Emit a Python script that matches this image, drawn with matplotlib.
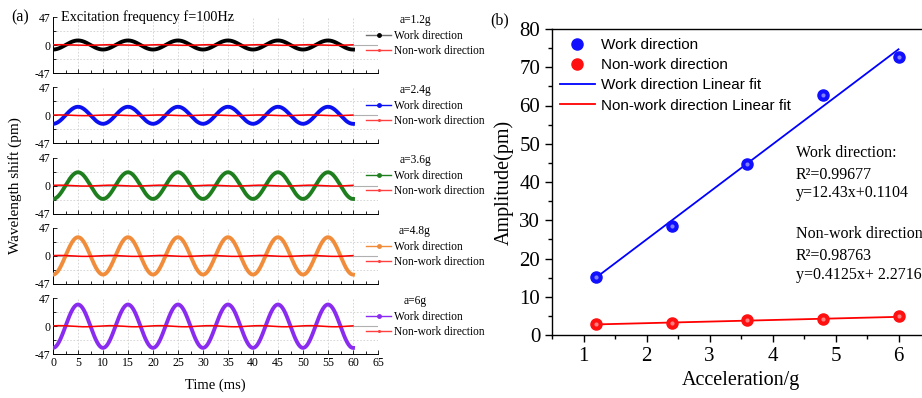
import numpy as np
import matplotlib
matplotlib.use("Agg")
import matplotlib.pyplot as plt
from matplotlib.ticker import MultipleLocator
from matplotlib.lines import Line2D

plt.rcParams["axes.unicode_minus"] = False

# data
accel = [1.2, 2.4, 3.6, 4.8, 6.0]
accel_labels = ["a=1.2g", "a=2.4g", "a=3.6g", "a=4.8g", "a=6g"]
work_amp = [15.2, 28.6, 44.7, 62.7, 72.7]       # peak-to-peak, pm
nonwork_amp = [2.8, 3.1, 3.8, 4.1, 4.9]
work_colors = ["black", "#0a10f0", "#1f7f1f", "#f08c3a", "#8a2cf0"]
legend_colors = ["#707070", "#0a10f0", "#1f7f1f", "#f08c3a", "#8a2cf0"]
excitation_hz = 100
fit_work = (12.43, 0.1104)
fit_nonwork = (0.4125, 2.2716)

serif = "Liberation Serif"
sans = "Liberation Sans"

fig = plt.figure(figsize=(9.22, 3.98), dpi=100)
W, H = 922, 398

# ---------- (a) time traces ----------
t = np.linspace(0, 60, 1201)
f_khz = excitation_hz / 1000.0
for i in range(5):
    top = 17 + 70.3 * i
    ax = fig.add_axes([53 / W, 1 - (top + 56) / H, 325 / W, 56 / H])
    work = -work_amp[i] / 2 * np.cos(2 * np.pi * f_khz * t)
    non = nonwork_amp[i] / 5 * np.sin(2 * np.pi * f_khz * t + 0.7)
    ax.axhline(0, color="#b0b0b0", lw=0.8, zorder=1)
    ax.plot(t, work, color=work_colors[i], lw=2.8, zorder=3)
    ax.plot(t, non, color="red", lw=1.1, zorder=4)
    ax.set_xlim(0, 65)
    ax.set_ylim(-47, 47)
    ax.set_yticks([-47, 0, 47])
    ax.yaxis.set_minor_locator(MultipleLocator(23.5))
    ax.xaxis.set_major_locator(MultipleLocator(5))
    ax.xaxis.set_minor_locator(MultipleLocator(2.5))
    ax.grid(True, which="major", axis="x", ls=(0, (2, 2)), color="#d0d0d0", lw=0.6)
    ax.grid(True, which="minor", axis="y", ls=(0, (2, 2)), color="#d0d0d0", lw=0.6)
    ax.tick_params(which="both", direction="in", labelsize=8.5, width=0.6, pad=2)
    ax.tick_params(which="major", length=3)
    ax.tick_params(which="minor", length=2)
    for s in ["top", "right"]:
        ax.spines[s].set_visible(False)
    for s in ["left", "bottom"]:
        ax.spines[s].set_linewidth(0.7)
    for lab in ax.get_xticklabels() + ax.get_yticklabels():
        lab.set_fontfamily(serif)
    if i < 4:
        ax.set_xticklabels([])
    ax.text(1.114, 0.95, accel_labels[i], transform=ax.transAxes, fontsize=8.3,
            family=serif, ha="center", va="center")
    handles = [Line2D([], [], color=legend_colors[i], lw=1.0, marker="o", ms=2.5,
                      markerfacecolor=work_colors[i], markeredgecolor=work_colors[i]),
               Line2D([], [], color="#ff4040", lw=1.0, marker="o", ms=1.2)]
    ax.legend(handles, ["Work direction", "Non-work direction"], loc="center left",
              bbox_to_anchor=(0.963, 0.53), frameon=False,
              prop={"family": serif, "size": 8.3}, borderpad=0, borderaxespad=0,
              handlelength=2.2, handletextpad=0.2, labelspacing=0.25)
    if i == 0:
        ax.text(0.025, 1.0, "Excitation frequency f=%dHz" % excitation_hz,
                transform=ax.transAxes, fontsize=10.3, family=serif, va="center")

fig.text(15 / W, 1 - 186 / H, "Wavelength shift (pm)", rotation=90, fontsize=11,
         family=serif, ha="center", va="center")
fig.text(215 / W, 1 - 385 / H, "Time (ms)", fontsize=10.5, family=serif,
         ha="center", va="center")
fig.text(20 / W, 1 - 17 / H, "(a)", fontsize=11.5, family=serif, ha="center", va="center")

# ---------- (b) amplitude vs acceleration ----------
axb = fig.add_axes([552 / W, 1 - 335 / H, 378 / W, 306 / H])
xf = np.array([accel[0], accel[-1]])
axb.plot(accel, work_amp, "o", color="#1010ff", ms=8, zorder=4, label="Work direction")
axb.plot(accel, nonwork_amp, "o", color="#ff1010", ms=8, zorder=4, label="Non-work direction")
axb.plot(accel, work_amp, "o", color="#8080ff", ms=3, zorder=5, markeredgewidth=0)
axb.plot(accel, nonwork_amp, "o", color="#ff8080", ms=3, zorder=5, markeredgewidth=0)
axb.plot(xf, fit_work[0] * xf + fit_work[1], color="blue", lw=1.3, zorder=3,
         label="Work direction Linear fit")
axb.plot(xf, fit_nonwork[0] * xf + fit_nonwork[1], color="red", lw=1.3, zorder=3,
         label="Non-work direction Linear fit")
axb.set_xlim(0.5, 6.5)
axb.set_ylim(0, 80)
axb.xaxis.set_major_locator(MultipleLocator(1))
axb.xaxis.set_minor_locator(MultipleLocator(0.5))
axb.yaxis.set_major_locator(MultipleLocator(10))
axb.yaxis.set_minor_locator(MultipleLocator(5))
axb.tick_params(which="both", direction="out", labelsize=15, width=1, top=False, right=False)
axb.tick_params(which="major", length=5)
axb.tick_params(which="minor", length=3)
for s in axb.spines.values():
    s.set_linewidth(1.0)
for lab in axb.get_xticklabels() + axb.get_yticklabels():
    lab.set_fontfamily(serif)
axb.set_xlabel("Acceleration/g", fontsize=14.5, family=serif, labelpad=4)
axb.set_ylabel("Amplitude(pm)", fontsize=14.5, family=serif, labelpad=4)

handles, labels = axb.get_legend_handles_labels()
axb.legend(handles, labels, loc="upper left", bbox_to_anchor=(0.02, 0.97), frameon=False,
           prop={"family": sans, "size": 11}, borderpad=0, borderaxespad=0,
           handlelength=2.3, handletextpad=0.4, labelspacing=0.4)

txt = [("Work direction:", 47.6), ("R²=0.99677", 41.8), ("y=12.43x+0.1104", 37.2),
       ("Non-work direction", 26.4), ("R²=0.98763", 20.7), ("y=0.4125x+ 2.2716", 15.7)]
for s, yv in txt:
    axb.text(4.37, yv, s, fontsize=11.5, family=serif, va="center", ha="left")

fig.text(500 / W, 1 - 20 / H, "(b)", fontsize=11.5, family=serif, ha="center", va="center")

fig.savefig("out.png", dpi=100)
